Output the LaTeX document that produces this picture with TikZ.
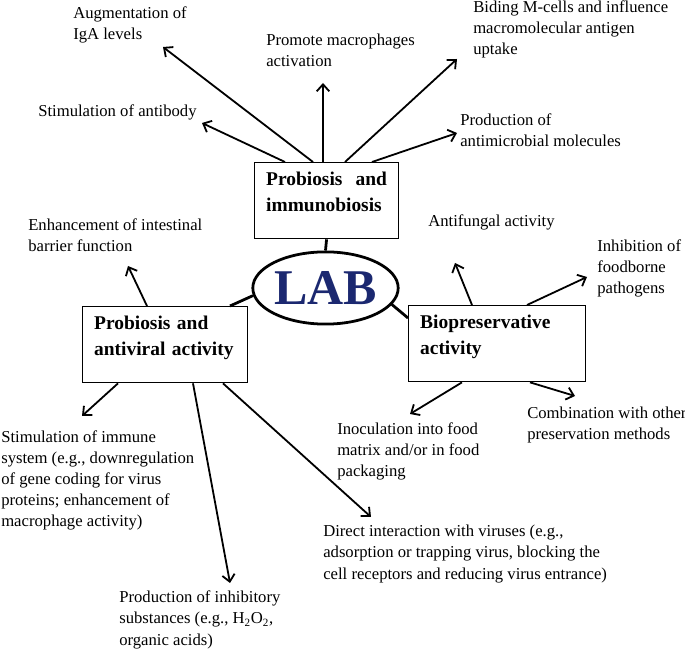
\documentclass[tikz,border=0pt]{standalone}
\usepackage{fontspec}
\setmainfont{Liberation Serif}
\usepackage{tikz}
\usepackage{xcolor}
\usetikzlibrary{shapes, arrows.meta, calc, positioning}
\definecolor{labnavy}{RGB}{27, 40, 112}

\begin{document}
\begin{tikzpicture}[x=0.72pt, y=-0.72pt]%{{{
        \useasboundingbox (0, 0) rectangle (685, 653);

        \tikzstyle{bx} = [draw, line width=0.9pt, anchor=north west, align=left, inner xsep=8.3pt, inner ysep=0pt, text height=16.8pt, text depth=38pt, font=\fontsize{14}{18.7}\selectfont\bfseries];
        \tikzstyle{lb} = [anchor=base west, align=left, inner sep=0pt, font=\fontsize{12}{15.3}\selectfont];
        \tikzstyle{arw} = [line width=1.3pt, -{Straight Barb[length=5pt, width=9pt]}];
        \tikzstyle{lnk} = [line width=2pt];

        \node [draw, ellipse, line width=2pt, minimum width=104pt, minimum height=52pt, inner sep=0pt, text=labnavy, font=\fontsize{36}{40}\selectfont\bfseries] (LAB) at (325.5, 288) {LAB};

        \node [bx, text width=87pt] (PI) at (254, 162) {Probiosis\hfill and\\immunobiosis};
        \node [bx, text width=102pt] (PA) at (82, 306) {Probiosis and\\antiviral activity};
        \node [bx, text width=111pt] (BP) at (408, 305) {Biopreservative\\activity};

        \node [lb] (IgA) at (73, 40) {Augmentation of\\IgA levels};
        \node [lb] (Ab) at (38, 117) {Stimulation of antibody};
        \node [lb] (Mac) at (266, 67) {Promote macrophages\\activation};
        \node [lb] (Mcell) at (473, 55) {Biding M-cells and influence\\macromolecular antigen\\uptake};
        \node [lb] (AMic) at (460, 147) {Production of\\antimicrobial molecules};
        \node [lb] (Bar) at (28, 252) {Enhancement of intestinal\\barrier function};
        \node [lb] (Imm) at (1, 527) {Stimulation of immune\\system (e.g., downregulation\\of gene coding for virus\\proteins; enhancement of\\macrophage activity)};
        \node [lb] (Inh) at (119, 645) {Production of inhibitory\\substances (e.g., H\textsubscript{2}O\textsubscript{2},\\organic acids)};
        \node [lb] (Vir) at (323, 579) {Direct interaction with viruses (e.g.,\\adsorption or trapping virus, blocking the\\cell receptors and reducing virus entrance)};
        \node [lb] (Fung) at (428, 227) {Antifungal activity};
        \node [lb] (Food) at (597, 294) {Inhibition of\\foodborne\\pathogens};
        \node [lb] (Inoc) at (337, 477) {Inoculation into food\\matrix and/or in food\\packaging};
        \node [lb] (Comb) at (527, 440) {Combination with other\\preservation methods};

        \coordinate (sAb)    at ($(PI.north west) + ( 31, 0)$);
        \coordinate (sIgA)   at ($(PI.north west) + ( 59, 0)$);
        \coordinate (sMac)   at ($(PI.north west) + ( 69, 0)$);
        \coordinate (sMcell) at ($(PI.north west) + ( 91, 0)$);
        \coordinate (sAMic)  at ($(PI.north west) + (118, 0)$);

        \coordinate (sBar)   at ($(PA.north west) + ( 65, 0)$);
        \coordinate (sImm)   at ($(PA.south west) + ( 36, 0)$);
        \coordinate (sInh)   at ($(PA.south west) + (111, 0)$);
        \coordinate (sVir)   at ($(PA.south west) + (141, 0)$);

        \coordinate (sFung)  at ($(BP.north west) + ( 64, 0)$);
        \coordinate (sFood)  at ($(BP.north west) + (119, 0)$);
        \coordinate (sInoc)  at ($(BP.south west) + ( 54, 0)$);
        \coordinate (sComb)  at ($(BP.south west) + (122, 0)$);

        \coordinate (tAb)    at (202, 123);
        \coordinate (tIgA)   at (163, 47);
        \coordinate (tMac)   at (323, 83);
        \coordinate (tMcell) at (457, 59);
        \coordinate (tAMic)  at (457, 133);
        \coordinate (tBar)   at (128, 266);
        \coordinate (tImm)   at (82, 416);
        \coordinate (tInh)   at (230, 583);
        \coordinate (tVir)   at (371, 517);
        \coordinate (tFung)  at (455, 263);
        \coordinate (tFood)  at (587, 277);
        \coordinate (tInoc)  at (410, 414);
        \coordinate (tComb)  at (575, 396);

        \foreach \n in {Ab, IgA, Mac, Mcell, AMic, Bar, Imm, Inh, Vir, Fung, Food, Inoc, Comb}{
            \draw [arw] (s\n) -- (t\n);
        }

        \coordinate (sPA) at ($(PA.north west) + (148, 0)$);
        \coordinate (sBP) at ($(BP.north west) + (0, 13)$);

        \draw [lnk] (PI.south) -- (LAB.north);
        \draw [lnk] (sPA) -- (LAB.186);
        \draw [lnk] (sBP) -- (LAB.-14);
    \end{tikzpicture}
\end{document}
